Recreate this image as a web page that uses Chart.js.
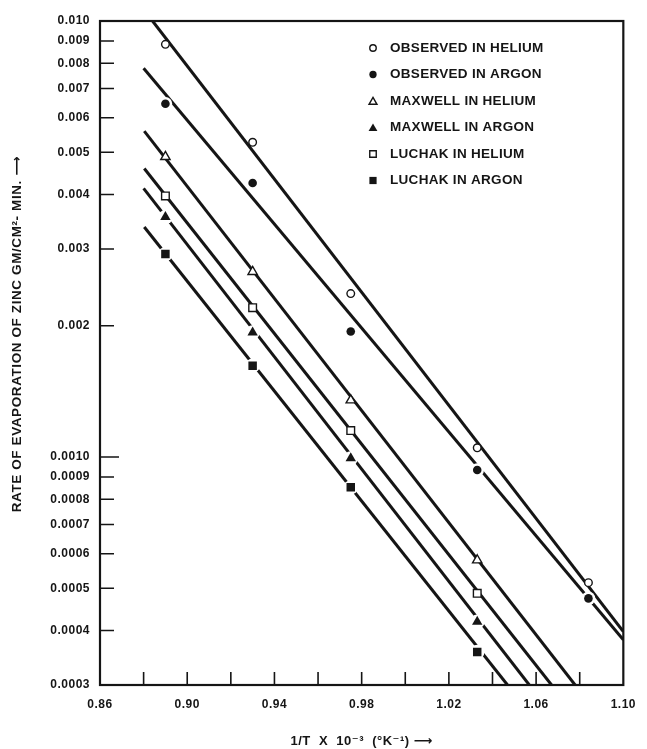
<!DOCTYPE html>
<html>
<head>
<meta charset="utf-8">
<script src="https://cdn.jsdelivr.net/npm/chart.js@4.4.1/dist/chart.umd.min.js"></script>
<style>
html,body{margin:0;padding:0;background:#fff;}
#wrap{width:647px;height:749px;}
</style>
</head>
<body>
<div id="wrap"><canvas id="c" width="647" height="749"></canvas></div>
<script>
// ---------------- data ----------------
const seriesLabels = ['OBSERVED IN HELIUM','OBSERVED IN ARGON','MAXWELL IN HELIUM','MAXWELL IN ARGON','LUCHAK IN HELIUM','LUCHAK IN ARGON'];
const xObserved = [0.890, 0.930, 0.975, 1.033, 1.084];
const xCalculated = [0.890, 0.930, 0.975, 1.033];
const obsHelium     = [0.00884, 0.00527, 0.00237, 0.00105, 0.000515];
const obsArgon      = [0.00646, 0.00425, 0.00194, 0.000934, 0.000474];
const maxwellHelium = [0.00488, 0.00266, 0.00135, 0.000580];
const maxwellArgon  = [0.00355, 0.00193, 0.000993, 0.000419];
const luchakHelium  = [0.00397, 0.00220, 0.00115, 0.000487];
const luchakArgon   = [0.00292, 0.00162, 0.000852, 0.000357];

// fitted straight lines (start / end)
const fitObsHeliumX     = [0.8841, 1.100];  const fitObsHeliumY     = [0.01000, 0.000398];
const fitObsArgonX      = [0.8800, 1.100];  const fitObsArgonY      = [0.00779, 0.000381];
const fitMaxwellHeliumX = [0.8803, 1.0779]; const fitMaxwellHeliumY = [0.00559, 0.0003];
const fitLuchakHeliumX  = [0.8803, 1.0671]; const fitLuchakHeliumY  = [0.00459, 0.0003];
const fitMaxwellArgonX  = [0.8800, 1.0569]; const fitMaxwellArgonY  = [0.00413, 0.0003];
const fitLuchakArgonX   = [0.8803, 1.0469]; const fitLuchakArgonY   = [0.00337, 0.0003];

const xTickValues = [0.86,0.88,0.90,0.92,0.94,0.96,0.98,1.00,1.02,1.04,1.06,1.08,1.10];
const xTickLabels = ['0.86','','0.90','','0.94','','0.98','','1.02','','1.06','','1.10'];
const yTickValues = [0.010,0.009,0.008,0.007,0.006,0.005,0.004,0.003,0.002,0.0010,0.0009,0.0008,0.0007,0.0006,0.0005,0.0004,0.0003];
const yTickLabels = ['0.010','0.009','0.008','0.007','0.006','0.005','0.004','0.003','0.002','0.0010','0.0009','0.0008','0.0007','0.0006','0.0005','0.0004','0.0003'];

const xTitle = '1/T  X  10\u207B\u00B3  (\u00B0K\u207B\u00B9) \u27F6';
const yTitle = 'RATE OF EVAPORATION OF ZINC GM/CM\u00B2- MIN. \u27F6';

// ---------------- styles ----------------
const ink = '#151515';
const fam = "'Liberation Sans',Arial,'DejaVu Sans',sans-serif";
const markerStyles = [
  {pointStyle:'circle',   radius:3.8, fill:'#fff', border:ink, bw:1.4, halo:0},
  {pointStyle:'circle',   radius:4.3, fill:ink,    border:ink, bw:0,   halo:6.8},
  {pointStyle:'triangle', radius:5.4, fill:'#fff', border:ink, bw:1.4, halo:0},
  {pointStyle:'triangle', radius:6.0, fill:ink,    border:ink, bw:0,   halo:7.2},
  {pointStyle:'rect',     radius:5.4, fill:'#fff', border:ink, bw:1.4, halo:0},
  {pointStyle:'rect',     radius:6.0, fill:ink,    border:ink, bw:0,   halo:7.2}
];

const zip = (xs, ys) => xs.map((x, i) => ({x: x, y: ys[i]}));
const seriesX = [xObserved, xObserved, xCalculated, xCalculated, xCalculated, xCalculated];
const seriesY = [obsHelium, obsArgon, maxwellHelium, maxwellArgon, luchakHelium, luchakArgon];
const fitX = [fitObsHeliumX, fitObsArgonX, fitMaxwellHeliumX, fitLuchakHeliumX, fitMaxwellArgonX, fitLuchakArgonX];
const fitY = [fitObsHeliumY, fitObsArgonY, fitMaxwellHeliumY, fitLuchakHeliumY, fitMaxwellArgonY, fitLuchakArgonY];

const datasets = [];
seriesLabels.forEach((lab, i) => {
  const m = markerStyles[i];
  datasets.push({
    label: lab, data: zip(seriesX[i], seriesY[i]), showLine: false, order: 1,
    pointStyle: m.pointStyle, pointRadius: m.radius, pointBackgroundColor: m.fill,
    pointBorderColor: m.border, pointBorderWidth: m.bw, pointHoverRadius: m.radius
  });
  if (m.halo) {
    datasets.push({
      label: lab + ' halo', data: zip(seriesX[i], seriesY[i]), showLine: false, order: 2,
      pointStyle: 'circle', pointRadius: m.halo, pointBackgroundColor: '#fff',
      pointBorderWidth: 0, pointHoverRadius: m.halo
    });
  }
});
fitX.forEach((xs, i) => {
  datasets.push({
    label: 'fit ' + i, data: zip(xs, fitY[i]), showLine: true, order: 3,
    borderColor: ink, borderWidth: 3, pointRadius: 0, pointHoverRadius: 0,
    borderCapStyle: 'butt', fill: false
  });
});

const findIdx = (arr, v) => arr.findIndex(a => Math.abs(a - v) < 1e-9);

const spacingPlugin = {
  id: 'spacing',
  beforeDraw(chart) { chart.ctx.letterSpacing = '0.5px'; }
};

const framePlugin = {
  id: 'frame',
  afterDatasetsDraw(chart) {
    const {ctx, chartArea: a, scales} = chart;
    ctx.save();
    ctx.strokeStyle = ink;
    ctx.lineWidth = 2.2;
    ctx.strokeRect(a.left, a.top, a.right - a.left, a.bottom - a.top);
    ctx.lineWidth = 1.6;
    ctx.beginPath();
    yTickValues.forEach(v => {
      if (v >= 0.01 || v <= 0.0003) return;
      const y = scales.y.getPixelForValue(v);
      const len = Math.abs(v - 0.001) < 1e-9 ? 19 : 14;
      ctx.moveTo(a.left, y); ctx.lineTo(a.left + len, y);
    });
    xTickValues.forEach(v => {
      if (v <= 0.86 + 1e-9 || v >= 1.10 - 1e-9) return;
      const x = scales.x.getPixelForValue(v);
      ctx.moveTo(x, a.bottom); ctx.lineTo(x, a.bottom - 13);
    });
    ctx.stroke();
    ctx.restore();
  }
};

const textPlugin = {
  id: 'customText',
  afterDraw(chart) {
    const {ctx, chartArea: a} = chart;
    ctx.save();
    // legend
    ctx.letterSpacing = '0.3px';
    ctx.font = 'bold 13.5px ' + fam;
    ctx.textBaseline = 'middle';
    ctx.textAlign = 'left';
    seriesLabels.forEach((lab, i) => {
      const m = markerStyles[i];
      const mx = a.left + 273, my = a.top + 27 + i * 26.5;
      ctx.fillStyle = m.fill; ctx.strokeStyle = m.border; ctx.lineWidth = m.bw;
      Chart.helpers.drawPoint(ctx, {pointStyle: m.pointStyle, radius: m.radius * 0.85, borderWidth: m.bw, rotation: 0}, mx, my + (m.pointStyle === 'triangle' ? 1 : 0));
      ctx.fillStyle = ink;
      ctx.fillText(lab, a.left + 290, my);
    });
    // y axis title
    ctx.letterSpacing = '0.6px';
    ctx.font = 'bold 13.5px ' + fam;
    ctx.textAlign = 'center';
    ctx.translate(17, 334);
    ctx.rotate(-Math.PI / 2);
    ctx.fillStyle = ink;
    ctx.fillText(yTitle, 0, 0);
    ctx.restore();
  }
};

new Chart(document.getElementById('c'), {
  type: 'scatter',
  data: {datasets: datasets},
  options: {
    responsive: false,
    animation: false,
    events: [],
    layout: {padding: {top: 21, right: 14, left: 0, bottom: 0}},
    plugins: {legend: {display: false}, tooltip: {enabled: false}},
    scales: {
      x: {
        type: 'linear', min: 0.86, max: 1.10,
        afterBuildTicks: s => { s.ticks = xTickValues.map(v => ({value: v})); },
        afterFit: s => { s.height = 64; },
        grid: {display: false, drawTicks: false},
        border: {display: false},
        ticks: {
          autoSkip: false, maxRotation: 0, padding: 12, color: ink,
          font: {family: fam, size: 12, weight: 'bold'},
          callback: v => { const i = findIdx(xTickValues, v); return i >= 0 ? xTickLabels[i] : ''; }
        },
        title: {display: true, text: xTitle, color: ink, font: {family: fam, size: 13, weight: 'bold'}, padding: {top: 0, bottom: 0}}
      },
      y: {
        type: 'logarithmic', min: 0.0003, max: 0.01,
        afterBuildTicks: s => { s.ticks = yTickValues.map(v => ({value: v})); },
        afterFit: s => { s.width = 100; },
        grid: {display: false, drawTicks: false},
        border: {display: false},
        ticks: {
          autoSkip: false, padding: 10, color: ink,
          font: {family: fam, size: 12, weight: 'bold'},
          callback: v => { const i = findIdx(yTickValues, v); return i >= 0 ? yTickLabels[i] : ''; }
        },
        title: {display: false, text: yTitle}
      }
    }
  },
  plugins: [spacingPlugin, framePlugin, textPlugin]
});
</script>
</body>
</html>
